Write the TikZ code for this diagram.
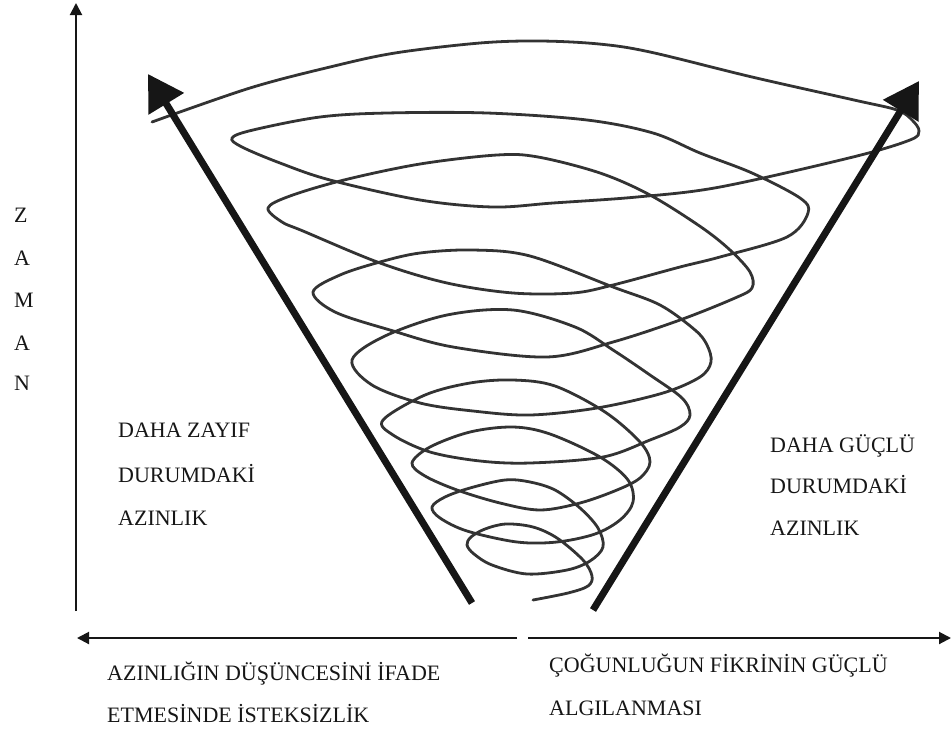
\documentclass[tikz,border=0pt]{standalone}
\usepackage{fontspec}
\setmainfont{Liberation Serif}
\usetikzlibrary{arrows.meta}
\definecolor{ink}{HTML}{161616}
\definecolor{curl}{HTML}{333333}
\tikzset{
  lbl/.style={font=\fontsize{22}{26}\selectfont, text=ink, inner sep=0pt, anchor=base west},
  timeaxis/.style={draw=ink, line width=2pt, -{Triangle[length=12pt,width=12pt]}},
  bigarrow/.style={draw=ink, line width=7pt, -{Triangle[length=35pt,width=40pt]}},
  curl/.style={draw=curl, line width=2.8pt, line cap=round, line join=round}
}
\begin{document}
\begin{tikzpicture}[x=1pt, y=-1pt]
\useasboundingbox (0,0) rectangle (952,731);

% Ejes
\coordinate (t0) at (76,611);
\coordinate (t1) at (76,3);
\coordinate (xm1) at (517,638);
\coordinate (xl) at (77,638);
\coordinate (xm2) at (528,638);
\coordinate (xr) at (951,638);
\draw [timeaxis] (t0) -- (t1);
\draw [timeaxis] (xm1) -- (xl);
\draw [timeaxis] (xm2) -- (xr);

% Espiral (de abajo hacia arriba)
\draw [curl] plot [smooth, tension=0.55] coordinates {
  (533,600) (568,593) (588,586) (592,576) (583,560) (557,538) (533,527) (506,524) (485,529) (471,537) (467,545)
  (474,554) (492,565) (527,574) (567,570) (590,561) (603,547) (598,528) (580,508) (555,490) (530,482) (505,480) (470,488) (445,497) (432,507)
  (440,518) (467,531) (517,542) (557,542) (595,534) (620,520) (633,502) (628,480) (600,457) (550,434) (513,427) (470,432) (430,447) (412,463)
  (425,476) (457,490) (500,503) (540,510) (580,503) (617,490) (640,478) (650,462) (640,442) (605,412) (555,386) (513,380) (470,383) (425,395) (383,420)
  (393,435) (430,452) (480,461) (530,463) (603,457) (650,440) (680,427) (690,415) (682,398) (650,375) (613,350) (575,327) (513,310) (447,315) (385,336) (352,360)
  (372,385) (420,403) (473,411) (530,415) (597,408) (663,393) (700,377) (711,362) (707,345) (695,330) (660,305) (613,287) (530,256) (473,250) (420,253) (380,262) (340,275) (313,292)
  (335,312) (390,330) (453,347) (547,357) (613,342) (680,320) (735,298) (752,288) (750,272) (730,250) (701,227) (650,195) (600,173) (538,157) (497,155) (420,164) (344,180) (290,196) (268,208)
  (282,222) (303,231) (380,263) (447,283) (513,293) (573,293) (613,285) (680,267) (720,257) (787,237) (808,213) (800,198) (752,173) (700,153) (653,133) (587,120) (487,113) (387,113) (320,117) (253,130) (232,138)
  (242,147) (280,163) (330,180) (420,200) (493,207) (553,203) (637,197) (720,187) (853,157) (910,140) (919,131)
  (912,120) (897,110) (854,100) (752,77) (650,52) (599,44) (540,41) (480,43) (395,53) (330,67) (250,88) (152,122)};

% Flechas grandes
\coordinate (lowL) at (472,603);
\coordinate (topL) at (148,74);
\coordinate (lowR) at (593,610);
\coordinate (topR) at (919,81);
\draw [bigarrow] (lowL) -- (topL);
\draw [bigarrow] (lowR) -- (topR);

% Zaman
\node [lbl] (z1) at (14,222) {Z};
\node [lbl] (z2) at (14,265) {A};
\node [lbl] (z3) at (14,307) {M};
\node [lbl] (z4) at (14,350) {A};
\node [lbl] (z5) at (14,390) {N};

% Azinlik (izquierda y derecha)
\node [lbl] (weak1) at (118,437) {DAHA ZAYIF};
\node [lbl] (weak2) at (118,482) {DURUMDAKİ};
\node [lbl] (weak3) at (118,525) {AZINLIK};
\node [lbl] (strong1) at (770,452) {DAHA GÜÇLÜ};
\node [lbl] (strong2) at (770,493) {DURUMDAKİ};
\node [lbl] (strong3) at (770,535) {AZINLIK};

% Textos de abajo
\node [lbl] (shy1) at (107,680) {AZINLIĞIN DÜŞÜNCESİNİ İFADE};
\node [lbl] (shy2) at (107,722) {ETMESİNDE İSTEKSİZLİK};
\node [lbl] (major1) at (549,672) {ÇOĞUNLUĞUN FİKRİNİN GÜÇLÜ};
\node [lbl] (major2) at (549,715) {ALGILANMASI};
\end{tikzpicture}
\end{document}
